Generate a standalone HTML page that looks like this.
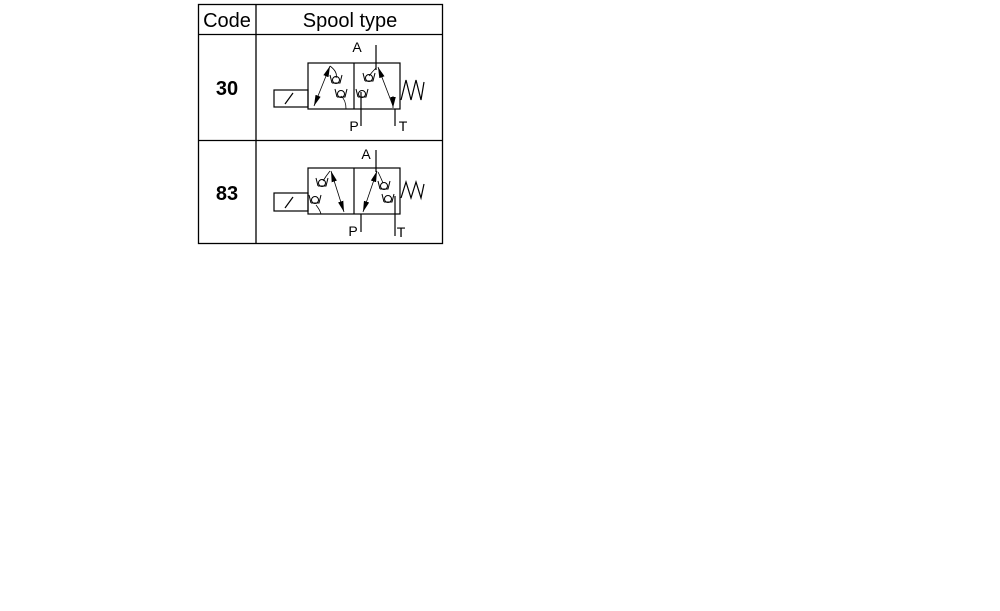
<!DOCTYPE html>
<html><head><style>body{margin:0;background:#fff}svg{display:block}</style></head>
<body>
<svg width="1000" height="611" viewBox="0 0 1000 611" xmlns="http://www.w3.org/2000/svg" font-family="Liberation Sans, sans-serif">
<defs>
<marker id="ah" viewBox="0 0 10 5" refX="10" refY="2.5" markerWidth="11" markerHeight="5.5" orient="auto-start-reverse" markerUnits="userSpaceOnUse"><path d="M0,0 L10,2.5 L0,5 z" fill="#000"/></marker>
<g id="cv"><circle cx="0" cy="0" r="3.5" fill="none" stroke="#000" stroke-width="1"/><path d="M-6,-5 L-4,3 M-4,3 L4,3 L6,-5" fill="none" stroke="#000" stroke-width="1"/></g>
</defs>
<g stroke="#000" stroke-width="1.3" fill="none">
<rect x="198.5" y="4.5" width="244" height="239"/>
<line x1="256" y1="4" x2="256" y2="244"/>
<line x1="198" y1="34.5" x2="443" y2="34.5"/>
<line x1="198" y1="140.5" x2="443" y2="140.5"/>
</g>
<g font-size="20" text-anchor="middle">
<text x="227" y="27">Code</text>
<text x="350" y="27">Spool type</text>
<text x="227" y="95" font-weight="bold">30</text>
<text x="227" y="200" font-weight="bold">83</text>
</g>
<!-- Row 1 -->
<g stroke="#000" stroke-width="1.2" fill="none">
<rect x="308" y="63" width="92" height="46"/>
<line x1="354" y1="63" x2="354" y2="109"/>
<rect x="274" y="90" width="34" height="17"/>
<line x1="285" y1="104" x2="293" y2="93"/>
<path d="M401,100 L406,80 L411,100 L416,80 L421,100 L424,82"/>
<line x1="376" y1="45" x2="376" y2="70"/>
<line x1="361" y1="92" x2="361" y2="126"/>
<line x1="395" y1="109" x2="395" y2="126"/>
<line x1="330" y1="66" x2="314" y2="106" stroke-width="0.8" marker-start="url(#ah)" marker-end="url(#ah)"/>
<line x1="378" y1="67" x2="393" y2="106" stroke-width="0.8" marker-start="url(#ah)"/>
<line x1="393" y1="96" x2="393" y2="108" stroke-width="0.8" marker-end="url(#ah)"/>
<path d="M330,66 Q338,72 336,78" stroke-width="0.8"/>
<path d="M341,96 Q346,100 346,109" stroke-width="0.8"/>
<path d="M376,68 Q372,72 369,76" stroke-width="0.8"/>
</g>
<use href="#cv" x="336" y="80"/>
<use href="#cv" x="341" y="94"/>
<use href="#cv" x="369" y="78"/>
<use href="#cv" x="362" y="94"/>
<g font-size="14" text-anchor="middle">
<text x="357" y="52">A</text>
<text x="354" y="131">P</text>
<text x="403" y="131">T</text>
</g>
<!-- Row 2 -->
<g stroke="#000" stroke-width="1.2" fill="none">
<rect x="308" y="168" width="92" height="46"/>
<line x1="354" y1="168" x2="354" y2="214"/>
<rect x="274" y="193" width="34" height="18"/>
<line x1="285" y1="208" x2="293" y2="197"/>
<path d="M401,198 L406,182 L411,198 L416,182 L421,198 L424,184"/>
<line x1="376" y1="150" x2="376" y2="172"/>
<line x1="361" y1="214" x2="361" y2="232"/>
<line x1="395" y1="196" x2="395" y2="236"/>
<line x1="331" y1="171" x2="344" y2="212" stroke-width="0.8" marker-start="url(#ah)" marker-end="url(#ah)"/>
<line x1="377" y1="171" x2="363" y2="212" stroke-width="0.8" marker-start="url(#ah)" marker-end="url(#ah)"/>
<path d="M330,171 Q326,176 323,181" stroke-width="0.8"/>
<path d="M316,205 Q320,210 321,214" stroke-width="0.8"/>
<path d="M378,172 Q381,178 383,183" stroke-width="0.8"/>
</g>
<use href="#cv" x="322" y="183"/>
<use href="#cv" x="315" y="200"/>
<use href="#cv" x="384" y="186"/>
<use href="#cv" x="388" y="199"/>
<g font-size="14" text-anchor="middle">
<text x="366" y="159">A</text>
<text x="353" y="236">P</text>
<text x="401" y="237">T</text>
</g>
</svg>
</body></html>
